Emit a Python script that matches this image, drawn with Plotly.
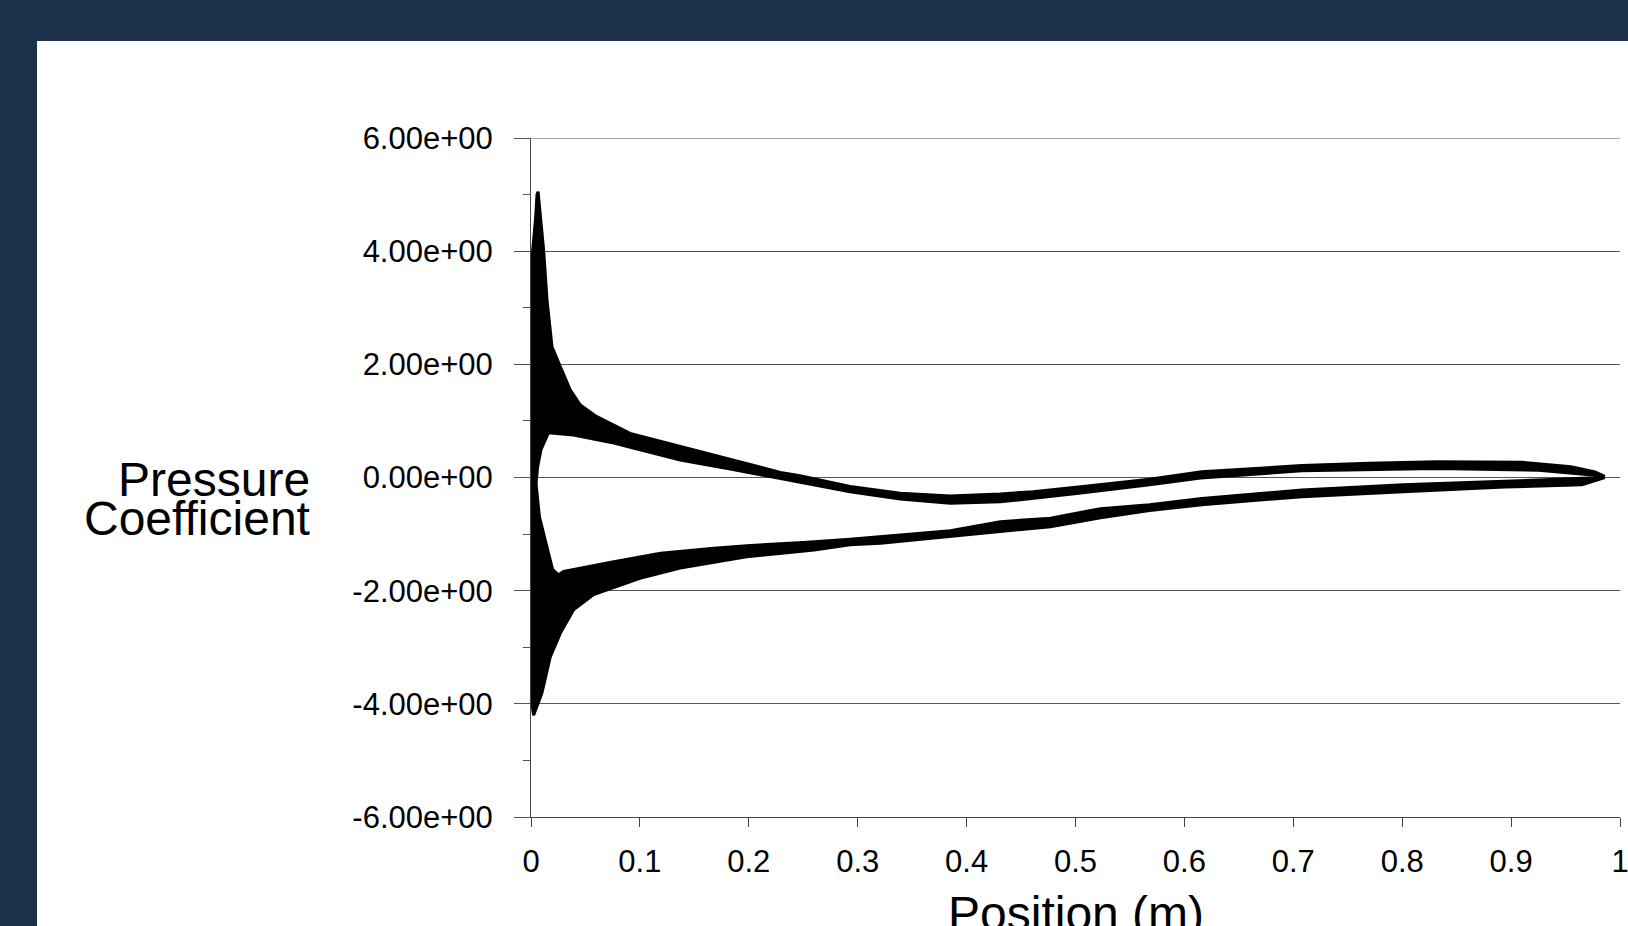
import plotly.graph_objects as go

# ---------------- data ----------------
# Upper surface band: outer (upper) envelope from leading edge to trailing edge
upper_outer_x = [0.0, 0.0015, 0.0043, 0.0055, 0.0065, 0.0086, 0.0116, 0.0147, 0.0193, 0.0269,
                 0.036, 0.0453, 0.060, 0.091, 0.137, 0.183, 0.2014, 0.229, 0.247, 0.293,
                 0.339, 0.385, 0.431, 0.461, 0.507, 0.568, 0.616, 0.708, 0.770, 0.832,
                 0.910, 0.955, 0.977, 0.986]
upper_outer_cp = [3.90, 4.00, 4.60, 5.00, 5.05, 4.61, 4.02, 3.14, 2.31, 1.96,
                  1.55, 1.28, 1.08, 0.78, 0.55, 0.31, 0.22, 0.09, 0.03, -0.16,
                  -0.28, -0.325, -0.29, -0.25, -0.16, -0.03, 0.10, 0.21, 0.25, 0.28,
                  0.27, 0.19, 0.10, 0.02]
# Upper surface band: inner (lower) envelope from trailing edge back to leading edge
upper_inner_x = [0.986, 0.972, 0.925, 0.832, 0.708, 0.615, 0.568, 0.507, 0.461, 0.431,
                 0.385, 0.339, 0.293, 0.229, 0.183, 0.137, 0.107, 0.076, 0.039, 0.016,
                 0.0092, 0.0061, 0.0046, 0.0]
upper_inner_cp = [0.02, 0.05, 0.13, 0.16, 0.12, -0.01, -0.13, -0.27, -0.37, -0.43,
                  -0.455, -0.38, -0.25, -0.01, 0.15, 0.31, 0.46, 0.61, 0.75, 0.79,
                  0.49, 0.19, -0.10, -0.10]

# Lower surface band: outer (lower) envelope from leading edge to trailing edge
lower_outer_x = [0.0, 0.0024, 0.010, 0.0177, 0.027, 0.039, 0.0575, 0.079, 0.100, 0.137,
                 0.198, 0.260, 0.293, 0.321, 0.385, 0.431, 0.477, 0.523, 0.568, 0.616,
                 0.708, 0.801, 0.894, 0.965, 0.986]
lower_outer_cp = [-3.90, -4.20, -3.81, -3.17, -2.75, -2.34, -2.07, -1.93, -1.78, -1.60,
                  -1.40, -1.28, -1.19, -1.16, -1.04, -0.96, -0.87, -0.71, -0.585, -0.48,
                  -0.34, -0.25, -0.17, -0.13, 0.00]
# Lower surface band: inner (upper) envelope from trailing edge back to leading edge
lower_inner_x = [0.986, 0.972, 0.894, 0.801, 0.708, 0.616, 0.568, 0.523, 0.477, 0.431,
                 0.385, 0.321, 0.293, 0.250, 0.2014, 0.168, 0.119, 0.076, 0.030, 0.0254,
                 0.0199, 0.0153, 0.0077, 0.0046, 0.0]
lower_inner_cp = [0.00, -0.01, -0.07, -0.13, -0.22, -0.37, -0.48, -0.55, -0.72, -0.78,
                  -0.94, -1.05, -1.09, -1.15, -1.20, -1.25, -1.34, -1.49, -1.66, -1.72,
                  -1.63, -1.28, -0.69, -0.10, -0.10]

x_tick_vals = [0, 0.1, 0.2, 0.3, 0.4, 0.5, 0.6, 0.7, 0.8, 0.9, 1.0]
x_tick_text = ["0", "0.1", "0.2", "0.3", "0.4", "0.5", "0.6", "0.7", "0.8", "0.9", "1"]
y_tick_vals = [-6, -4, -2, 0, 2, 4, 6]
y_tick_text = ["-6.00e+00", "-4.00e+00", "-2.00e+00", "0.00e+00", "2.00e+00", "4.00e+00", "6.00e+00"]
y_range = [-6, 6]
x_range = [0, 1]

x_title = "Position (m)"
y_title_lines = ["Pressure", "Coefficient"]

# ---------------- figure ----------------
FONT = "Liberation Sans, Arial, Helvetica, sans-serif"
W, H = 1628, 926
ML, MR, MT, MB = 531, 8, 138, 109
PW = W - ML - MR
PH = H - MT - MB
TICK_SIZE = 31
TITLE_SIZE = 48


def px_to_paper_x(px):
    return (px - ML) / PW


def px_to_paper_y(py):
    return (H - MB - py) / PH


fig = go.Figure()
for xs_out, cp_out, xs_in, cp_in in [
    (upper_outer_x, upper_outer_cp, upper_inner_x, upper_inner_cp),
    (lower_outer_x, lower_outer_cp, lower_inner_x, lower_inner_cp),
]:
    fig.add_trace(go.Scatter(
        x=list(xs_out) + list(xs_in),
        y=list(cp_out) + list(cp_in),
        mode="lines",
        fill="toself",
        fillcolor="black",
        line=dict(color="black", width=3),
        hoverinfo="skip",
        showlegend=False,
    ))

fig.update_layout(
    width=W, height=H,
    margin=dict(l=ML, r=MR, t=MT, b=MB, pad=0, autoexpand=False),
    paper_bgcolor="#1e314a",
    plot_bgcolor="white",
    font=dict(family=FONT, color="black", size=TICK_SIZE),
    showlegend=False,
    shapes=[
        dict(type="rect", xref="paper", yref="paper", layer="below",
             x0=px_to_paper_x(37), x1=px_to_paper_x(W + 20),
             y0=px_to_paper_y(H + 20), y1=px_to_paper_y(41),
             fillcolor="white", line=dict(width=0)),
        # top gridline at the upper end of the range
        dict(type="line", xref="paper", yref="y", layer="above",
             x0=px_to_paper_x(ML - 16), x1=1, y0=y_range[1], y1=y_range[1],
             line=dict(color="#555", width=1)),
    ],
    xaxis=dict(
        range=x_range, tickmode="array", tickvals=x_tick_vals, ticktext=x_tick_text,
        showgrid=False, zeroline=False, showline=True, linecolor="#444", linewidth=1,
        ticks="outside", ticklen=9, tickcolor="#444", tickwidth=1,
        tickfont=dict(family=FONT, size=TICK_SIZE, color="black"),
        ticklabelstandoff=8, ticklabeloverflow="allow", automargin=False,
    ),
    yaxis=dict(
        range=y_range, tickmode="array", tickvals=y_tick_vals, ticktext=y_tick_text,
        showgrid=True, gridcolor="#555", gridwidth=1, zeroline=False,
        showline=True, linecolor="#444", linewidth=1,
        ticks="outside", ticklen=16, tickcolor="#555", tickwidth=1,
        tickfont=dict(family=FONT, size=TICK_SIZE, color="black"),
        ticklabelstandoff=15, ticklabeloverflow="allow", automargin=False,
        minor=dict(ticks="outside", ticklen=7, tickcolor="#555", tick0=1, dtick=2, showgrid=False),
    ),
    annotations=[
        dict(text=y_title_lines[0], xref="paper", yref="paper",
             x=px_to_paper_x(312), y=px_to_paper_y(479), xanchor="right", yanchor="middle",
             showarrow=False, font=dict(family=FONT, size=TITLE_SIZE, color="black")),
        dict(text=y_title_lines[1], xref="paper", yref="paper",
             x=px_to_paper_x(312), y=px_to_paper_y(518), xanchor="right", yanchor="middle",
             showarrow=False, font=dict(family=FONT, size=TITLE_SIZE, color="black")),
        dict(text=x_title, xref="paper", yref="paper",
             x=0.5, y=px_to_paper_y(913), xanchor="center", yanchor="middle",
             showarrow=False, font=dict(family=FONT, size=TITLE_SIZE, color="black")),
    ],
)

fig.write_html(
    "out.html",
    config={"displayModeBar": False},
    post_script="document.body.style.margin='0';document.body.style.overflow='hidden';",
)
